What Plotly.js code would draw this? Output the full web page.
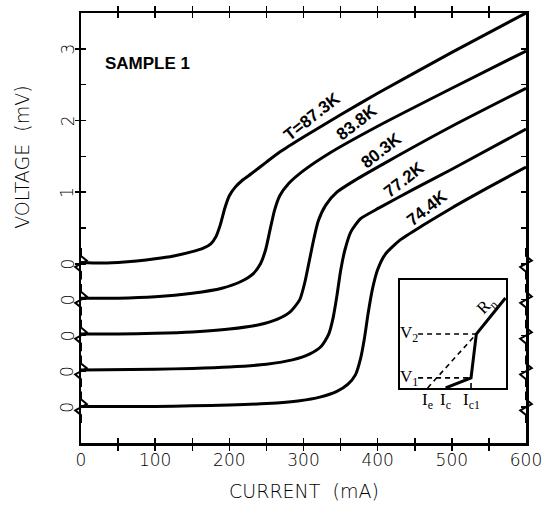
<!DOCTYPE html>
<html><head><meta charset="utf-8">
<script src="https://cdn.plot.ly/plotly-3.0.1.min.js"></script>
<style>html,body{margin:0;padding:0;background:#fff}#chart{width:544px;height:510px}</style>
</head><body><div id="chart"></div>
<script>
// ---- data (current in mA, voltage in mV of each curve, before vertical offset) ----
const temps = ["T=87.3K", "83.8K", "80.3K", "77.2K", "74.4K"];
const offsets = [0, 0.5, 1.0, 1.5, 2.0];   // each curve's zero is shifted down by this (mV)

const current873 = [0, 25, 50, 75, 100, 125, 150, 165, 175, 182, 188, 194, 200, 208, 218, 230, 250, 268, 300, 350, 400, 500, 600];
const volt873    = [0.02, 0.01, 0.02, 0.04, 0.07, 0.11, 0.17, 0.22, 0.28, 0.38, 0.55, 0.78, 0.95, 1.07, 1.17, 1.26, 1.42, 1.56, 1.77, 2.08, 2.38, 2.95, 3.5];

const current838 = [0, 50, 100, 150, 190, 215, 232, 242, 249, 255, 261, 268, 280, 300, 336, 400, 500, 600];
const volt838    = [0.02, 0.02, 0.04, 0.09, 0.16, 0.25, 0.36, 0.5, 0.7, 0.98, 1.25, 1.45, 1.62, 1.8, 2.05, 2.42, 2.95, 3.47];

const current803 = [0, 50, 100, 150, 200, 240, 265, 282, 295, 302, 308, 314, 320, 330, 345, 370, 412, 500, 600];
const volt803    = [0.02, 0.02, 0.03, 0.05, 0.09, 0.15, 0.23, 0.33, 0.5, 0.75, 1.05, 1.35, 1.6, 1.82, 2.0, 2.17, 2.42, 2.92, 3.45];

const current772 = [0, 100, 150, 200, 250, 285, 308, 324, 334, 340, 345, 350, 356, 364, 377, 402, 450, 500, 600];
const volt772    = [0.02, 0.03, 0.04, 0.06, 0.1, 0.16, 0.24, 0.35, 0.52, 0.75, 1.05, 1.4, 1.7, 1.95, 2.13, 2.28, 2.55, 2.82, 3.38];

const current744 = [0, 100, 150, 200, 250, 295, 322, 345, 360, 370, 377, 382, 387, 393, 400, 410, 430, 460, 500, 550, 600];
const volt744    = [0.01, 0.01, 0.02, 0.03, 0.05, 0.09, 0.14, 0.22, 0.32, 0.45, 0.68, 0.95, 1.3, 1.65, 1.92, 2.13, 2.33, 2.53, 2.78, 3.07, 3.35];

const labelCurrent = [312, 372, 405, 436, 466];   // where each temperature label sits (mA)

// y tick labels: the five shifted zeros plus the main scale
const yTickVals = [-2, -1.5, -1, -0.5, 0, 0.5, 1, 1.5, 2, 2.5, 3];
const yTickText = ["0", "0", "0", "0", "0", "", "1", "", "2", "", "3"];
const xTickVals = [0, 50, 100, 150, 200, 250, 300, 350, 400, 450, 500, 550, 600];
const xTickText = ["0", "", "100", "", "200", "", "300", "", "400", "", "500", "", "600"];

// inset sketch (normalised units inside the inset box)
const insetCurveX = [0.43, 0.67, 0.72, 0.995];
const insetCurveY = [0, 0.093, 0.5, 0.833];
const insetV1 = 0.093, insetV2 = 0.5;
const insetIe = 0.26, insetIc = 0.43, insetIc1 = 0.67, insetKneeX = 0.72;

const currents = [current873, current838, current803, current772, current744];
const volts = [volt873, volt838, volt803, volt772, volt744];

function interp(xs, ys, x) {
  for (let i = 1; i < xs.length; i++) {
    if (x <= xs[i]) { const t = (x - xs[i-1]) / (xs[i] - xs[i-1]); return ys[i-1] + t * (ys[i] - ys[i-1]); }
  }
  return ys[ys.length - 1];
}

const traces = [];
currents.forEach((xs, k) => {
  traces.push({
    x: xs, y: volts[k].map(v => v - offsets[k]),
    type: 'scatter', mode: 'lines', line: {color: '#000', width: 3, shape: 'spline', smoothing: 0.6},
    hoverinfo: 'skip', showlegend: false, xaxis: 'x', yaxis: 'y'
  });
});
// second y axis only for outward parts of major ticks
traces.push({x: [0], y: [0], mode: 'markers', marker: {opacity: 0}, xaxis: 'x', yaxis: 'y3', showlegend: false, hoverinfo: 'skip'});

// inset traces
const dash = {color: '#000', width: 1.6, dash: '5px,4px'};
traces.push({x: insetCurveX, y: insetCurveY, mode: 'lines', line: {color: '#000', width: 3}, xaxis: 'x2', yaxis: 'y2', showlegend: false, hoverinfo: 'skip'});
traces.push({x: [0.17, insetKneeX], y: [insetV2, insetV2], mode: 'lines', line: dash, xaxis: 'x2', yaxis: 'y2', showlegend: false, hoverinfo: 'skip'});
traces.push({x: [0.17, insetIc1], y: [insetV1, insetV1], mode: 'lines', line: dash, xaxis: 'x2', yaxis: 'y2', showlegend: false, hoverinfo: 'skip'});
traces.push({x: [insetIc1, insetIc1], y: [0, insetV1], mode: 'lines', line: dash, xaxis: 'x2', yaxis: 'y2', showlegend: false, hoverinfo: 'skip'});
traces.push({x: [insetIe, insetKneeX], y: [0, insetV2], mode: 'lines', line: dash, xaxis: 'x2', yaxis: 'y2', showlegend: false, hoverinfo: 'skip'});

const thinFamily = 'DejaVu Sans ExtraLight, DejaVu Sans Light, Liberation Sans, Arial, sans-serif';
const tickFont = {family: thinFamily, size: 17, color: '#000'};
const labelFont = {family: 'Liberation Sans Narrow, Liberation Sans, Arial, sans-serif', size: 17, color: '#000', weight: 700};

const annotations = [];
temps.forEach((t, k) => {
  const lx = labelCurrent[k];
  const ly = interp(currents[k], volts[k], lx) - offsets[k] + 0.21;
  annotations.push({x: lx, y: ly, xref: 'x', yref: 'y', xanchor: 'center', yanchor: 'middle', text: t, showarrow: false, textangle: -38, font: labelFont});
});
// y tick labels (rotated, like the original lettering)
yTickVals.forEach((v, i) => {
  if (!yTickText[i]) return;
  annotations.push({x: -0.03, y: v, xref: 'paper', yref: 'y', xanchor: 'center', yanchor: 'middle', text: yTickText[i], showarrow: false, textangle: -90, font: tickFont});
});
annotations.push({x: 90, y: 2.8, xref: 'x', yref: 'y', xanchor: 'center', yanchor: 'middle', text: 'SAMPLE 1', showarrow: false, font: {family: 'Liberation Sans Narrow, Liberation Sans, Arial, sans-serif', size: 17, weight: 700, color: '#000'}});
annotations.push({x: -0.133, y: 0.665, xref: 'paper', yref: 'paper', xanchor: 'center', yanchor: 'middle', text: 'VOLTAGE  (mV)', showarrow: false, textangle: -90, font: {family: thinFamily, size: 19, color: '#000'}});
annotations.push({x: 0.5, y: -0.112, xref: 'paper', yref: 'paper', xanchor: 'center', yanchor: 'middle', text: 'CURRENT  (mA)', showarrow: false, font: {family: thinFamily, size: 19, color: '#000'}});
// inset labels (paper coordinates derived from the inset domain)
const insX0 = 0.717, insX1 = 0.955, insY0 = 0.128, insY1 = 0.379;
const px = u => insX0 + u * (insX1 - insX0);
const py = v => insY0 + v * (insY1 - insY0);
const insetFont = {family: 'Liberation Serif, serif', size: 17, color: '#000'};
annotations.push({x: px(0.08), y: py(insetV2), xref: 'paper', yref: 'paper', xanchor: 'center', yanchor: 'middle', text: 'V<sub>2</sub>', showarrow: false, font: insetFont});
annotations.push({x: px(0.08), y: py(insetV1), xref: 'paper', yref: 'paper', xanchor: 'center', yanchor: 'middle', text: 'V<sub>1</sub>', showarrow: false, font: insetFont});
annotations.push({x: px(insetIe), y: insY0 - 0.03, xref: 'paper', yref: 'paper', xanchor: 'center', yanchor: 'middle', text: 'I<sub>e</sub>', showarrow: false, font: insetFont});
annotations.push({x: px(insetIc), y: insY0 - 0.03, xref: 'paper', yref: 'paper', xanchor: 'center', yanchor: 'middle', text: 'I<sub>c</sub>', showarrow: false, font: insetFont});
annotations.push({x: px(insetIc1), y: insY0 - 0.03, xref: 'paper', yref: 'paper', xanchor: 'center', yanchor: 'middle', text: 'I<sub>c1</sub>', showarrow: false, font: insetFont});
annotations.push({x: px(0.82), y: py(0.76), xref: 'paper', yref: 'paper', xanchor: 'center', yanchor: 'middle', text: 'R<sub>n</sub>', showarrow: false, textangle: -45, font: insetFont});

// axis-break zigzags at each shifted zero, on the left axis and the right frame
const shapes = [];
offsets.forEach(o => {
  const y = -o;
  [0, 1].forEach(p => {
    const d = 0.013, h = 0.11;
    shapes.push({type: 'path', xref: 'paper', yref: 'y',
      path: `M ${p},${y + 2*h} L ${p},${y + h} L ${p + d},${y + h*0.4} L ${p - d},${y - h*0.4} L ${p},${y - h} L ${p},${y - 2*h}`,
      line: {color: '#000', width: 2}});
  });
});

const layout = {
  width: 544, height: 510,
  margin: {l: 81, r: 18, t: 13, b: 67},
  paper_bgcolor: '#fff', plot_bgcolor: '#fff',
  showlegend: false,
  xaxis: {range: [0, 600], tickvals: xTickVals, ticktext: xTickText, ticks: 'inside', ticklen: 5, tickwidth: 1.5, tickcolor: '#000',
    showline: true, linewidth: 2.5, linecolor: '#000', mirror: 'allticks', showgrid: false, zeroline: false, tickfont: tickFont, fixedrange: true},
  yaxis: {range: [-2.5, 3.5], tickvals: yTickVals, ticks: 'inside', ticklen: 5, tickwidth: 1.5, tickcolor: '#000', showticklabels: false,
    showline: true, linewidth: 2.5, linecolor: '#000', mirror: 'allticks', showgrid: false, zeroline: false, fixedrange: true},
  yaxis3: {range: [-2.5, 3.5], overlaying: 'y', side: 'left', tickvals: [0, 1, 2, 3], ticks: 'outside', ticklen: 5, tickwidth: 1.5, tickcolor: '#000',
    showticklabels: false, showline: false, showgrid: false, zeroline: false, fixedrange: true},
  xaxis2: {domain: [insX0, insX1], anchor: 'y2', range: [0, 1], showline: true, mirror: true, linewidth: 2, linecolor: '#000',
    showticklabels: false, ticks: '', showgrid: false, zeroline: false, fixedrange: true},
  yaxis2: {domain: [insY0, insY1], anchor: 'x2', range: [0, 1], showline: true, mirror: true, linewidth: 2, linecolor: '#000',
    showticklabels: false, ticks: '', showgrid: false, zeroline: false, fixedrange: true},
  annotations: annotations,
  shapes: shapes
};

Plotly.newPlot('chart', traces, layout, {displayModeBar: false, staticPlot: true});
</script></body></html>
